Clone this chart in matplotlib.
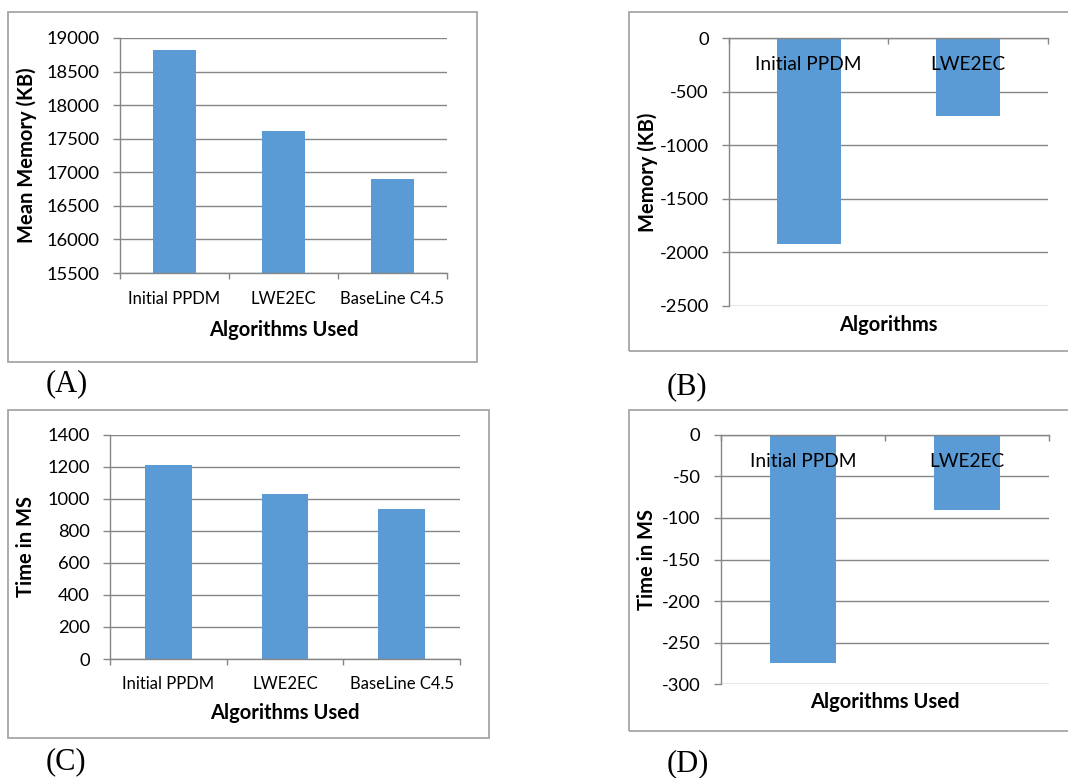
import matplotlib
matplotlib.use('Agg')
import matplotlib.pyplot as plt
from matplotlib.patches import Rectangle

W, H = 1068, 778

# data
algos3 = ['Initial PPDM', 'LWE2EC', 'BaseLine C4.5']
algos2 = ['Initial PPDM', 'LWE2EC']
mean_memory = [18821, 17617, 16896]   # (A) KB
memory_diff = [-1925, -724]           # (B) KB
time_ms = [1213, 1028, 938]           # (C) ms
time_diff = [-274, -90]               # (D) ms

ticks_a = list(range(15500, 19001, 500))
ticks_b = list(range(-2500, 1, 500))
ticks_c = list(range(0, 1401, 200))
ticks_d = list(range(-300, 1, 50))

BAR = '#5b9bd5'
GRID = '#868686'
BOX = '#a6a6a6'

plt.rcParams['font.family'] = ['Lato', 'DejaVu Sans']
plt.rcParams['axes.unicode_minus'] = False

fig = plt.figure(figsize=(W / 100, H / 100), dpi=100)


def px_axes(x0, y0, x1, y1):
    # axes from pixel box (top-left origin)
    return fig.add_axes([x0 / W, 1 - y1 / H, (x1 - x0) / W, (y1 - y0) / H])


def frame(x0, y0, x1, y1):
    fig.patches.append(Rectangle((x0 / W, 1 - y1 / H), (x1 - x0) / W, (y1 - y0) / H,
                                 transform=fig.transFigure, fill=False,
                                 ec=BOX, lw=1.3))


def bar_panel(ax, cats, vals, yticks, xfs, xpad, xlabel, ylabel, xl_pos, yl_pos, top_axis):
    n = len(cats)
    pos = list(range(n))
    ax.bar(pos, vals, width=0.4, color=BAR, zorder=1)
    ax.set_xlim(-0.5, n - 0.5)
    ax.set_ylim(yticks[0], yticks[-1])
    ax.set_yticks(yticks)
    for t in yticks:
        ax.axhline(t, color=GRID, lw=1.0, zorder=0.5)
    # category boundaries get tick marks, centres get labels
    ax.set_xticks([i - 0.5 for i in range(n + 1)])
    ax.set_xticklabels([])
    ax.set_xticks(pos, minor=True)
    ax.set_xticklabels(cats, minor=True)
    ax.tick_params(axis='x', which='major', direction='out', length=4.5,
                   width=1.0, color=GRID)
    ax.tick_params(axis='x', which='minor', length=0, pad=xpad, labelsize=xfs)
    ax.tick_params(axis='y', direction='out', length=5, width=1.0, color=GRID,
                   labelsize=13.2, pad=9.5)
    for s in ['top', 'right']:
        ax.spines[s].set_visible(False)
    for s in ['left', 'bottom']:
        ax.spines[s].set_color(GRID)
        ax.spines[s].set_linewidth(1.0)
    if top_axis:
        ax.spines['bottom'].set_position(('data', 0))
    ax.set_xlabel(xlabel, fontsize=14.5, fontweight='bold')
    ax.xaxis.set_label_coords(0.5, xl_pos)
    ax.xaxis.label.set_va('center')
    ax.set_ylabel(ylabel, fontsize=14.5, fontweight='bold')
    ax.yaxis.set_label_coords(yl_pos, 0.5)
    ax.yaxis.label.set_va('center')


# outer chart frames
frame(8, 12, 477, 362)
frame(629, 12, 1075, 351)
frame(8, 410, 489, 738)
frame(629, 410, 1075, 731)

ax_a = px_axes(120, 38, 447, 273)
bar_panel(ax_a, algos3, mean_memory, ticks_a, 12, 13,
          'Algorithms Used', 'Mean Memory (KB)', -0.243, -0.284, False)

ax_b = px_axes(729, 38.3, 1048, 306)
bar_panel(ax_b, algos2, memory_diff, ticks_b, 13.8, 13,
          'Algorithms', 'Memory (KB)', -0.071, -0.254, True)

ax_c = px_axes(110, 434.7, 460, 659)
bar_panel(ax_c, algos3, time_ms, ticks_c, 12, 12.5,
          'Algorithms Used', 'Time in MS', -0.242, -0.241, False)

ax_d = px_axes(720.7, 434.7, 1049, 684.3)
bar_panel(ax_d, algos2, time_diff, ticks_d, 13.8, 13,
          'Algorithms Used', 'Time in MS', -0.072, -0.225, True)

# panel captions
for lab, x, y in [('(A)', 66.5, 384), ('(B)', 687, 387), ('(C)', 65.5, 762), ('(D)', 688, 764)]:
    fig.text(x / W, 1 - y / H, lab, ha='center', va='center', fontsize=22,
             family=['Liberation Serif', 'DejaVu Serif'])

fig.savefig('out.png', dpi=100)
